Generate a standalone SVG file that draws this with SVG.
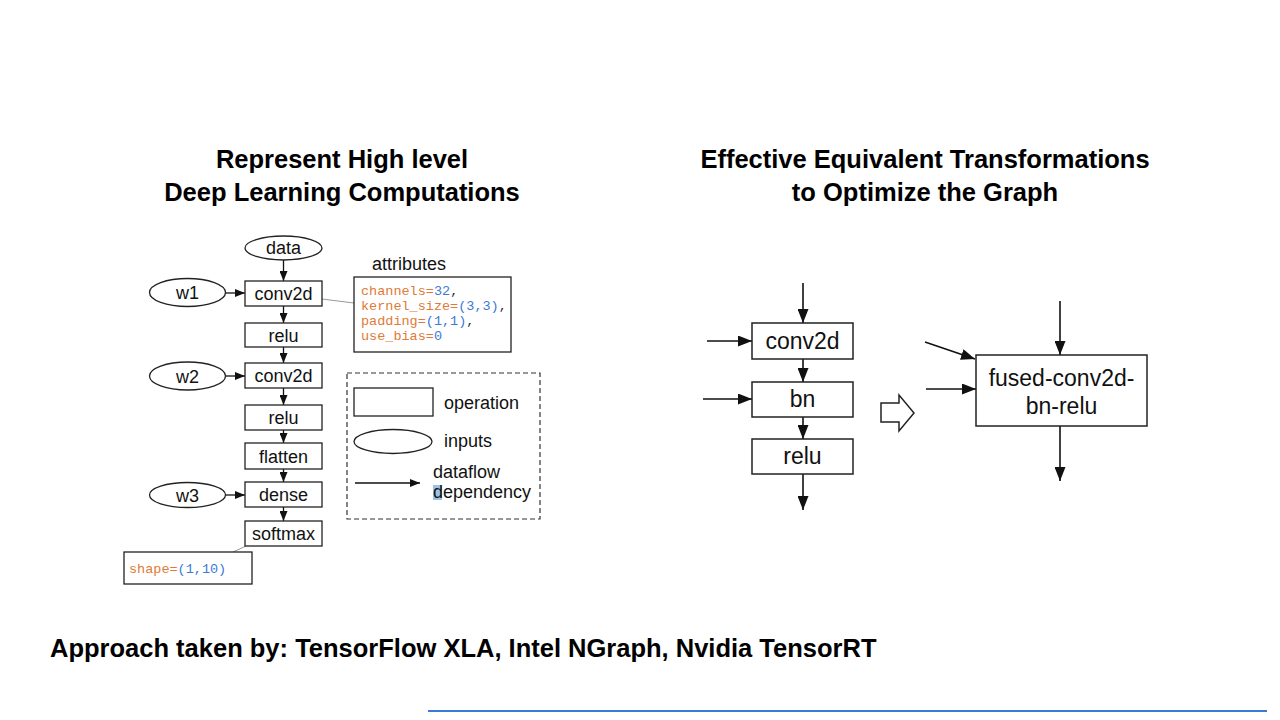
<svg xmlns="http://www.w3.org/2000/svg" width="1280" height="720" viewBox="0 0 1280 720">
<style>
.title{font-family:"Liberation Sans",Arial,sans-serif;font-weight:bold;font-size:25.5px;fill:#000;text-anchor:middle}
.foot{font-family:"Liberation Sans",Arial,sans-serif;font-weight:bold;font-size:25.5px;fill:#000}
.lbl{font-family:"Liberation Sans",Arial,sans-serif;font-size:18px;fill:#111;text-anchor:middle}
.leg{font-family:"Liberation Sans",Arial,sans-serif;font-size:18px;fill:#111}
.big{font-family:"Liberation Sans",Arial,sans-serif;font-size:23px;fill:#111;text-anchor:middle}
.mono{font-family:"Liberation Mono","DejaVu Sans Mono",monospace;font-size:13.5px}
.or{fill:#e07a36}
.bl{fill:#3a7bd5}
.box{fill:#fff;stroke:#222;stroke-width:1.3}
.bigbox{fill:#fff;stroke:#222;stroke-width:1.5}
.edge{stroke:#111;stroke-width:1.3;fill:none}
.edgeb{stroke:#111;stroke-width:1.6;fill:none}
</style>
<defs>
<marker id="ah" markerUnits="userSpaceOnUse" markerWidth="10" markerHeight="8" refX="10" refY="4" orient="auto">
<path d="M0,0 L10,4 L0,8 z" fill="#111"/>
</marker>
<marker id="ahb" markerUnits="userSpaceOnUse" markerWidth="14" markerHeight="11" refX="14" refY="5.5" orient="auto">
<path d="M0,0 L14,5.5 L0,11 z" fill="#111"/>
</marker>
</defs>
<rect width="1280" height="720" fill="#fff"/>

<g id="titles">
<text class="title" x="342" y="168">Represent High level</text>
<text class="title" x="342" y="201">Deep Learning Computations</text>
<text class="title" x="925" y="168">Effective Equivalent Transformations</text>
<text class="title" x="925" y="201">to Optimize the Graph</text>
</g>

<g id="connectors">
<line class="edge" x1="283.5" y1="260" x2="283.5" y2="281" marker-end="url(#ah)"/>
<line class="edge" x1="225" y1="293" x2="245" y2="293" marker-end="url(#ah)"/>
<line class="edge" x1="283.5" y1="306" x2="283.5" y2="323" marker-end="url(#ah)"/>
<line class="edge" x1="283.5" y1="347" x2="283.5" y2="363" marker-end="url(#ah)"/>
<line class="edge" x1="225" y1="376" x2="245" y2="376" marker-end="url(#ah)"/>
<line class="edge" x1="283.5" y1="388" x2="283.5" y2="405" marker-end="url(#ah)"/>
<line class="edge" x1="283.5" y1="430" x2="283.5" y2="443" marker-end="url(#ah)"/>
<line class="edge" x1="283.5" y1="469" x2="283.5" y2="482" marker-end="url(#ah)"/>
<line class="edge" x1="225" y1="495" x2="245" y2="495" marker-end="url(#ah)"/>
<line class="edge" x1="283.5" y1="507" x2="283.5" y2="521" marker-end="url(#ah)"/>
<line x1="322" y1="299" x2="354" y2="303" stroke="#999" stroke-width="1"/>
<line x1="246" y1="546" x2="233" y2="552" stroke="#999" stroke-width="1"/>

<line class="edgeb" x1="803" y1="283" x2="803" y2="323" marker-end="url(#ahb)"/>
<line class="edgeb" x1="707" y1="341" x2="752" y2="341" marker-end="url(#ahb)"/>
<line class="edgeb" x1="803" y1="359" x2="803" y2="382" marker-end="url(#ahb)"/>
<line class="edgeb" x1="703" y1="399" x2="752" y2="399" marker-end="url(#ahb)"/>
<line class="edgeb" x1="803" y1="417" x2="803" y2="439" marker-end="url(#ahb)"/>
<line class="edgeb" x1="803" y1="474" x2="803" y2="510" marker-end="url(#ahb)"/>

<line class="edgeb" x1="1060" y1="301" x2="1060" y2="355" marker-end="url(#ahb)"/>
<line class="edgeb" x1="925" y1="342" x2="975" y2="359" marker-end="url(#ahb)"/>
<line class="edgeb" x1="926" y1="389" x2="976" y2="389" marker-end="url(#ahb)"/>
<line class="edgeb" x1="1060" y1="426" x2="1060" y2="481" marker-end="url(#ahb)"/>
</g>

<g id="n-data"><ellipse cx="283.5" cy="248" rx="38.5" ry="12" class="box"/><text class="lbl" x="283.5" y="254">data</text></g>
<g id="n-w1"><ellipse cx="187.5" cy="292.5" rx="38" ry="14" class="box"/><text class="lbl" x="187.5" y="299">w1</text></g>
<g id="n-conv2d-1"><rect x="245" y="281" width="77" height="25" class="box"/><text class="lbl" x="283.5" y="300">conv2d</text></g>
<g id="n-relu-1"><rect x="245" y="323" width="77" height="24" class="box"/><text class="lbl" x="283.5" y="341.5">relu</text></g>
<g id="n-w2"><ellipse cx="187.5" cy="376" rx="38" ry="14" class="box"/><text class="lbl" x="187.5" y="382.5">w2</text></g>
<g id="n-conv2d-2"><rect x="245" y="363" width="77" height="25" class="box"/><text class="lbl" x="283.5" y="382">conv2d</text></g>
<g id="n-relu-2"><rect x="245" y="405" width="77" height="25" class="box"/><text class="lbl" x="283.5" y="424">relu</text></g>
<g id="n-flatten"><rect x="245" y="443" width="77" height="26" class="box"/><text class="lbl" x="283.5" y="462.5">flatten</text></g>
<g id="n-w3"><ellipse cx="187.5" cy="495" rx="38" ry="12.5" class="box"/><text class="lbl" x="187.5" y="501.5">w3</text></g>
<g id="n-dense"><rect x="245" y="482" width="77" height="25" class="box"/><text class="lbl" x="283.5" y="501">dense</text></g>
<g id="n-softmax"><rect x="245" y="521" width="77" height="25" class="box"/><text class="lbl" x="283.5" y="540">softmax</text></g>

<g id="n-shape">
<rect x="124" y="552" width="128" height="32" class="box"/>
<text class="mono" x="129" y="573"><tspan class="or">shape=</tspan><tspan class="bl">(1,10)</tspan></text>
</g>

<g id="n-attributes">
<text class="leg" x="372" y="270">attributes</text>
<rect x="354" y="277" width="157" height="75" class="box"/>
<text class="mono" x="361" y="295"><tspan class="or">channels=</tspan><tspan class="bl">32</tspan><tspan fill="#333">,</tspan></text>
<text class="mono" x="361" y="310"><tspan class="or">kernel_size=</tspan><tspan class="bl">(3,3)</tspan><tspan fill="#333">,</tspan></text>
<text class="mono" x="361" y="325"><tspan class="or">padding=</tspan><tspan class="bl">(1,1)</tspan><tspan fill="#333">,</tspan></text>
<text class="mono" x="361" y="340"><tspan class="or">use_bias=</tspan><tspan class="bl">0</tspan></text>
</g>

<g id="legend">
<rect x="347" y="373" width="193" height="146" fill="none" stroke="#333" stroke-width="1.2" stroke-dasharray="5,3"/>
<rect x="354" y="388" width="79" height="28" class="box"/>
<text class="leg" x="444" y="409">operation</text>
<ellipse cx="393" cy="441.5" rx="39" ry="12" class="box"/>
<text class="leg" x="444" y="447">inputs</text>
<line class="edge" x1="355" y1="483" x2="420" y2="483" marker-end="url(#ah)"/>
<rect x="433" y="485" width="9" height="15" fill="#9cc3e6"/>
<text class="leg" x="433" y="478">dataflow</text>
<text class="leg" x="433" y="498">dependency</text>
</g>

<g id="n-r-conv2d"><rect x="752" y="323" width="101" height="36" class="bigbox"/><text class="big" x="802.5" y="349">conv2d</text></g>
<g id="n-r-bn"><rect x="752" y="382" width="101" height="35" class="bigbox"/><text class="big" x="802.5" y="407">bn</text></g>
<g id="n-r-relu"><rect x="752" y="439" width="101" height="35" class="bigbox"/><text class="big" x="802.5" y="464">relu</text></g>

<g id="transform-arrow">
<path d="M881,403 L899,403 L899,395 L914,413 L899,431 L899,422 L881,422 z" fill="#fff" stroke="#222" stroke-width="1.5" stroke-linejoin="miter"/>
</g>

<g id="n-fused">
<rect x="976" y="355" width="171" height="71" class="bigbox"/>
<text class="big" x="1061.5" y="386">fused-conv2d-</text>
<text class="big" x="1061.5" y="414">bn-relu</text>
</g>

<g id="footer">
<text class="foot" x="50" y="657">Approach taken by: TensorFlow XLA, Intel NGraph, Nvidia TensorRT</text>
<line x1="428" y1="711" x2="1267" y2="711" stroke="#3a7bd5" stroke-width="2"/>
</g>
</svg>
